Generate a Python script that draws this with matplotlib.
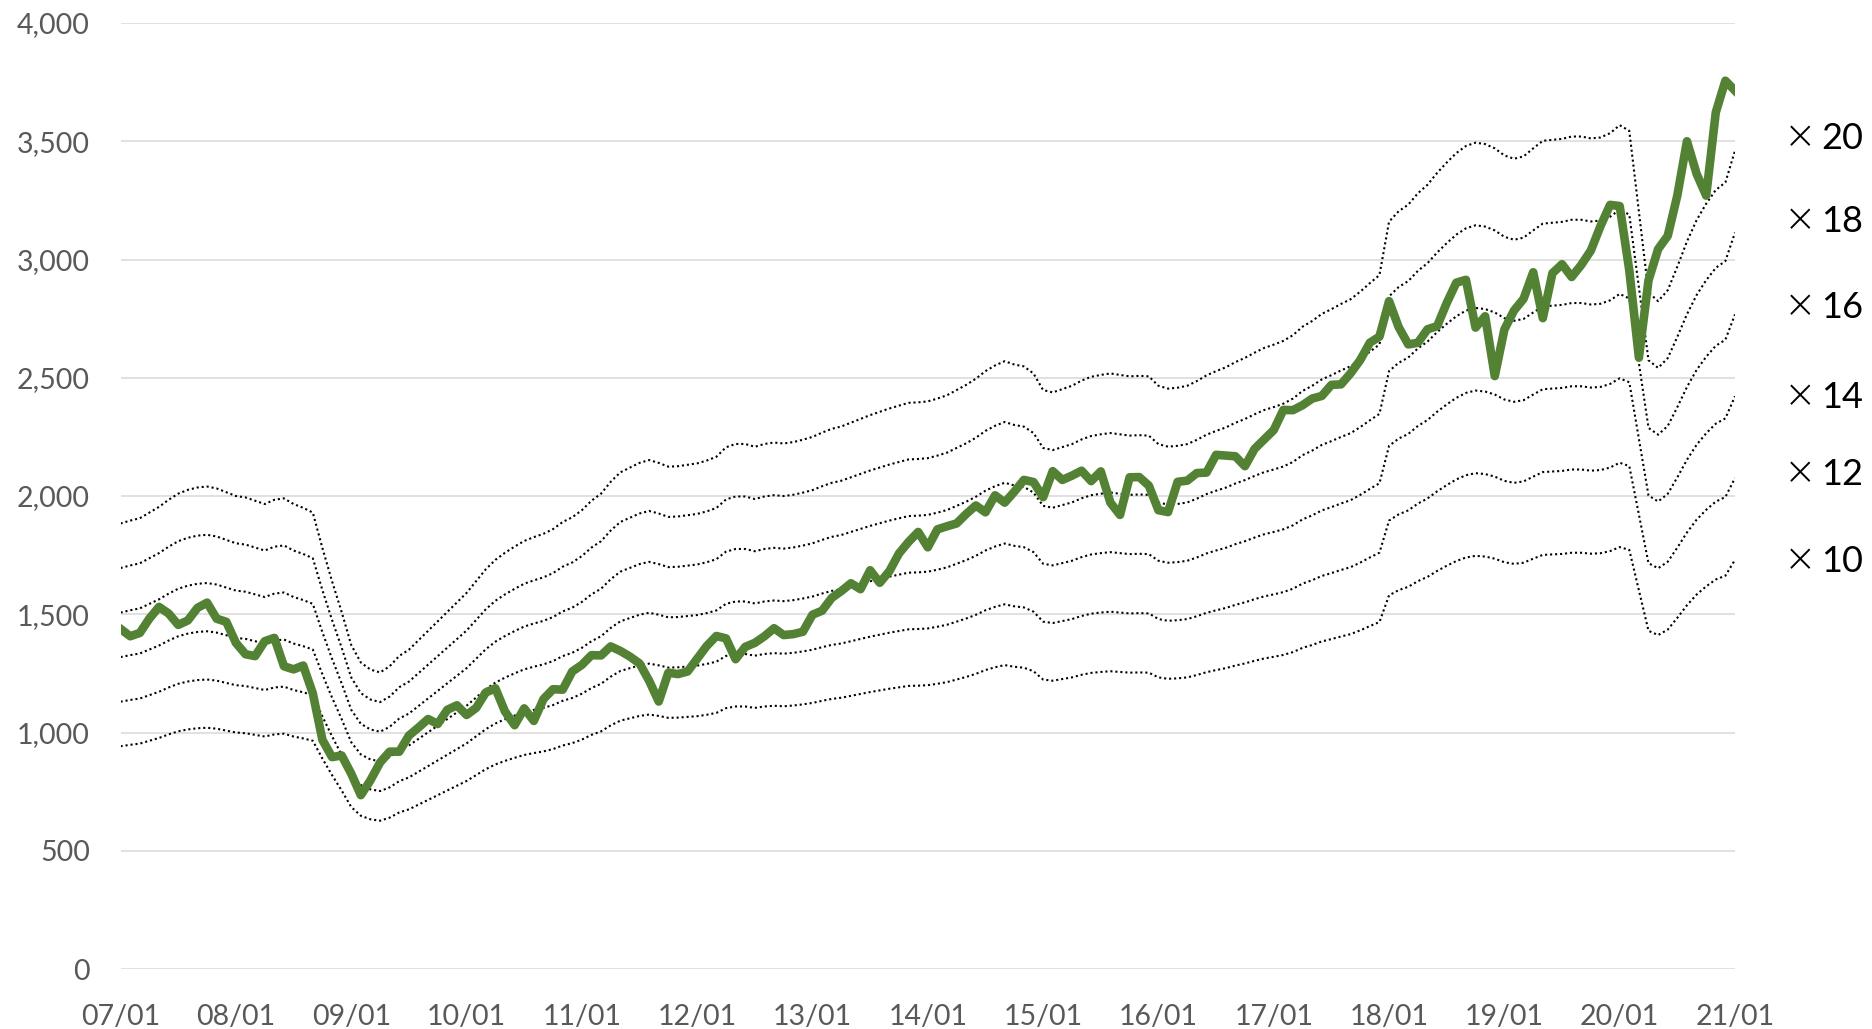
import numpy as np
import matplotlib
matplotlib.use("Agg")
import matplotlib.pyplot as plt
from matplotlib.ticker import FuncFormatter

plt.rcParams['font.family'] = ['Lato', 'DejaVu Sans']

# Monthly index level, 2007/01 .. 2021/01
price = [
    1438, 1407, 1421, 1482, 1531, 1503, 1455, 1474, 1527, 1549, 1481, 1468,
    1379, 1331, 1323, 1386, 1400, 1280, 1267, 1283, 1166, 969, 896, 903,
    826, 735, 798, 873, 919, 919, 987, 1021, 1057, 1036, 1096, 1115,
    1074, 1104, 1169, 1187, 1089, 1031, 1102, 1049, 1141, 1183, 1181, 1258,
    1286, 1327, 1326, 1364, 1345, 1321, 1292, 1219, 1131, 1253, 1247, 1258,
    1312, 1366, 1408, 1398, 1310, 1362, 1379, 1407, 1441, 1412, 1416, 1426,
    1498, 1515, 1569, 1598, 1631, 1606, 1686, 1633, 1682, 1757, 1806, 1848,
    1783, 1859, 1872, 1884, 1924, 1960, 1931, 2003, 1972, 2018, 2068, 2059,
    1995, 2105, 2068, 2086, 2107, 2063, 2104, 1972, 1920, 2079, 2080, 2044,
    1940, 1932, 2060, 2065, 2097, 2099, 2174, 2171, 2168, 2126, 2199, 2239,
    2279, 2364, 2363, 2384, 2412, 2423, 2470, 2472, 2519, 2575, 2648, 2674,
    2824, 2714, 2641, 2648, 2705, 2718, 2816, 2902, 2914, 2712, 2760, 2507,
    2704, 2784, 2834, 2946, 2752, 2942, 2980, 2926, 2977, 3038, 3141, 3231,
    3226, 2954, 2585, 2912, 3044, 3100, 3271, 3500, 3363, 3270, 3622, 3756,
    3714,
]

# Monthly EPS, 2007/01 .. 2021/01
eps = [
    94.2, 94.8, 95.3, 96.5, 97.7, 99.2, 100.5, 101.3, 101.8, 102.0, 101.6, 100.8,
    100.0, 99.7, 99.0, 98.3, 99.2, 99.5, 98.3, 97.5, 96.5, 89.0, 82.0, 75.5,
    68.5, 64.8, 63.3, 62.7, 64.0, 66.2, 67.5, 69.5, 71.5, 73.5, 75.5, 77.5,
    79.5, 82.0, 84.5, 86.5, 88.0, 89.3, 90.5, 91.3, 92.0, 93.0, 94.5, 95.5,
    97.0, 99.0, 100.5, 103.0, 105.0, 106.0, 107.0, 107.6, 107.0, 106.2, 106.3, 106.6,
    106.9, 107.5, 108.3, 110.3, 111.0, 111.0, 110.4, 111.0, 111.3, 111.1, 111.4, 111.9,
    112.5, 113.4, 114.2, 114.7, 115.5, 116.3, 117.1, 117.8, 118.5, 119.1, 119.7, 119.8,
    120.0, 120.6, 121.3, 122.4, 123.5, 124.8, 126.4, 127.6, 128.5, 127.8, 127.4, 125.9,
    122.4, 121.9, 122.6, 123.3, 124.4, 125.2, 125.6, 125.9, 125.6, 125.3, 125.4, 125.3,
    123.3, 122.7, 122.9, 123.3, 124.3, 125.5, 126.4, 127.2, 128.3, 129.2, 130.3, 131.3,
    132.0, 132.8, 134.0, 135.8, 137.0, 138.5, 139.5, 140.6, 141.6, 143.2, 145.0, 146.7,
    158.0, 160.2, 161.6, 164.0, 165.8, 168.3, 170.5, 172.5, 174.0, 174.7, 174.4, 173.5,
    172.0, 171.3, 171.8, 173.5, 175.1, 175.3, 175.5, 176.0, 176.0, 175.6, 175.8, 176.7,
    178.4, 177.2, 160.0, 143.0, 141.2, 143.5, 148.5, 153.8, 158.3, 161.8, 164.7, 166.3,
    173.0,
]

multiples = [20, 18, 16, 14, 12, 10]
tick_labels = ["07/01", "08/01", "09/01", "10/01", "11/01", "12/01", "13/01", "14/01",
               "15/01", "16/01", "17/01", "18/01", "19/01", "20/01", "21/01"]

# layout: vertical offset (points) of each multiple label from its band's last point
label_offsets = [9, 7.8, 4.8, -1, 2.3, -1]

W, H = 1872, 1029
fig = plt.figure(figsize=(W / 100, H / 100), dpi=100)
left, right, top, bottom = 120.6, 1735, 23, 969
ax = fig.add_axes([left / W, (H - bottom) / H, (right - left) / W, (bottom - top) / H])

x = np.arange(len(price))
eps_arr = np.array(eps)

for m in multiples:
    ax.plot(x, eps_arr * m, color='black', lw=1.5, linestyle=(0, (1, 1.4)),
            dash_capstyle='butt', zorder=2)

ax.plot(x, price, color='#548235', lw=6.2, zorder=3, solid_joinstyle='round')

for m, off in zip(multiples, label_offsets):
    yv = eps_arr[-1] * m
    ax.annotate("\u00d7", xy=(1.030, yv), xycoords=('axes fraction', 'data'),
                xytext=(0, off + 1), textcoords='offset points', ha='left', va='center',
                fontsize=28, color='black', fontfamily='DejaVu Sans', fontweight='light',
                annotation_clip=False)
    ax.annotate(f"{m}", xy=(1.0535, yv), xycoords=('axes fraction', 'data'),
                xytext=(0, off), textcoords='offset points', ha='left', va='center',
                fontsize=26, color='black', annotation_clip=False)

ax.set_xlim(0, len(price) - 1)
ax.set_ylim(0, 4000)
ax.set_yticks(np.arange(0, 4001, 500))
ax.yaxis.set_major_formatter(FuncFormatter(lambda v, p: f"{int(v):,}"))
ax.set_xticks(np.arange(0, len(price), 12))
ax.set_xticklabels(tick_labels)

ax.yaxis.grid(True, color='#d9d9d9', lw=1.1)
ax.set_axisbelow(True)
for s in ax.spines.values():
    s.set_visible(False)
ax.tick_params(axis='both', length=0, labelsize=20.5, labelcolor='#595959')
ax.tick_params(axis='y', pad=22)
ax.tick_params(axis='x', pad=25)

fig.savefig("out.png", dpi=100)
